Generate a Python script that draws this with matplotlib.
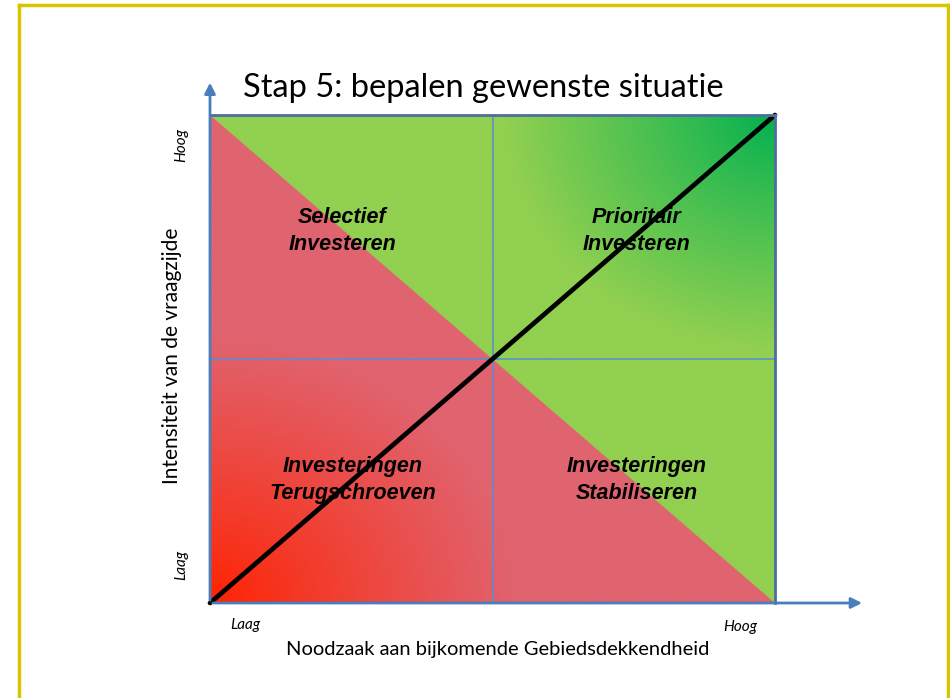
import numpy as np
import matplotlib.pyplot as plt
from matplotlib.lines import Line2D

# Kwadrant labels en posities (in eenheden van de matrix 0..1)
kwadrant_labels = ['Selectief\nInvesteren', 'Prioritair\nInvesteren',
                   'Investeringen\nTerugschroeven', 'Investeringen\nStabiliseren']
kwadrant_x = [0.234, 0.755, 0.253, 0.755]
kwadrant_y = [0.762, 0.762, 0.252, 0.252]
diagonaal_x = [0, 1]
diagonaal_y = [0, 1]
midden = 0.5

titel = 'Stap 5: bepalen gewenste situatie'
xlabel = 'Noodzaak aan bijkomende Gebiedsdekkendheid'
ylabel = 'Intensiteit van de vraagzijde'
laag_hoog = ['Laag', 'Hoog']

# Kleuren
roze = np.array([224, 100, 112]) / 255
rood = np.array([255, 34, 0]) / 255
lichtgroen = np.array([146, 208, 80]) / 255
donkergroen = np.array([0, 176, 80]) / 255
blauw = '#4A7EBB'

fig = plt.figure(figsize=(9.5, 6.98), dpi=100)
ax = fig.add_axes([210 / 950, 95 / 698, 565 / 950, 488 / 698])

# Achtergrond: twee driehoeken met verloop naar de hoeken
n = 1200
u, v = np.meshgrid(np.linspace(0, 1, n), np.linspace(0, 1, n))
d_groen = np.sqrt((1 - u) ** 2 + (1 - v) ** 2)
t_groen = np.clip(d_groen / 0.48, 0, 1)[..., None] ** 0.9
d_rood = np.sqrt(u ** 2 + v ** 2)
t_rood = np.clip(d_rood / 0.55, 0, 1)[..., None] ** 0.9
kleur_groen = donkergroen * (1 - t_groen) + lichtgroen * t_groen
kleur_rood = rood * (1 - t_rood) + roze * t_rood
img = np.where((u + v >= 1)[..., None], kleur_groen, kleur_rood)
ax.imshow(img, extent=(0, 1, 0, 1), origin='lower', interpolation='antialiased', aspect='auto')

ax.axhline(midden, color='#5B8BD3', lw=1.1)
ax.axvline(midden, color='#5B8BD3', lw=1.1)
ax.plot(diagonaal_x, diagonaal_y, color='black', lw=3.4, solid_capstyle='round', clip_on=False)

for lab, x, y in zip(kwadrant_labels, kwadrant_x, kwadrant_y):
    ax.text(x, y, lab, ha='center', va='center', fontsize=15.5, fontweight='bold',
            fontstyle='italic', family='Liberation Sans', linespacing=1.35)

ax.set_xlim(0, 1)
ax.set_ylim(0, 1)
ax.set_xticks([])
ax.set_yticks([])
for s in ['left', 'bottom']:
    ax.spines[s].set_visible(False)
for s in ['top', 'right']:
    ax.spines[s].set_color('#4F6D9E')
    ax.spines[s].set_linewidth(2)

# Assen met pijlen
ax.annotate('', xy=(0, 1.072), xytext=(0, 0), xycoords='axes fraction',
            arrowprops=dict(arrowstyle='-|>', color=blauw, lw=2, mutation_scale=16))
ax.annotate('', xy=(1.159, 0), xytext=(0, 0), xycoords='axes fraction',
            arrowprops=dict(arrowstyle='-|>', color=blauw, lw=2, mutation_scale=16))

fig.text(483 / 950, 1 - 88 / 698, titel, ha='center', va='center', fontsize=23.5, family='Lato')
fig.text(498 / 950, 1 - 650 / 698, xlabel, ha='center', va='center', fontsize=14.5, family='Lato')
fig.text(172 / 950, 1 - 356 / 698, ylabel, ha='center', va='center', rotation=90, fontsize=15, family='Lato')
fig.text(245 / 950, 1 - 625 / 698, laag_hoog[0], ha='center', va='center', fontsize=11, fontstyle='italic', family='Lato')
fig.text(740 / 950, 1 - 627 / 698, laag_hoog[1], ha='center', va='center', fontsize=11, fontstyle='italic', family='Lato')
fig.text(181 / 950, 1 - 565 / 698, laag_hoog[0], ha='center', va='center', rotation=90, fontsize=11, fontstyle='italic', family='Lato')
fig.text(181 / 950, 1 - 145 / 698, laag_hoog[1], ha='center', va='center', rotation=90, fontsize=11, fontstyle='italic', family='Lato')

# Gele kader
geel = '#D9C400'
fig.add_artist(Line2D([19 / 950, 19 / 950], [0, 1 - 5 / 698], color=geel, lw=2.5))
fig.add_artist(Line2D([19 / 950, 948 / 950], [1 - 5 / 698, 1 - 5 / 698], color=geel, lw=2.5))
fig.add_artist(Line2D([948 / 950, 948 / 950], [0, 1 - 5 / 698], color=geel, lw=2.5))

fig.savefig('out.png', dpi=100)
